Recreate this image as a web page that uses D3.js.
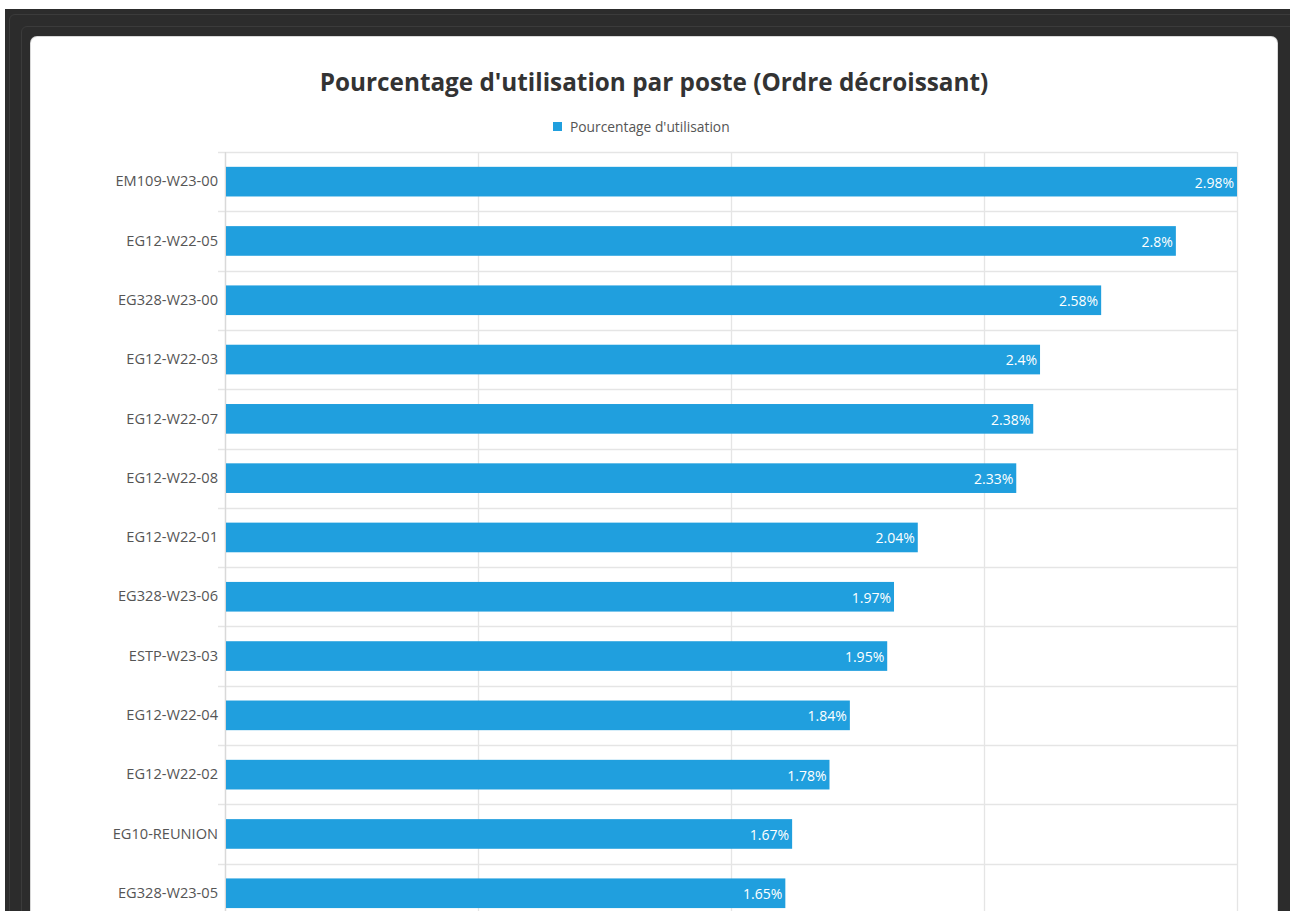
<!DOCTYPE html>
<html>
<head>
<meta charset="utf-8">
<script src="https://cdn.jsdelivr.net/npm/d3@7/dist/d3.min.js"></script>
<style>
  html, body { margin: 0; padding: 0; background: #ffffff; overflow: hidden; width: 1290px; height: 911px; }
  #outer { position: absolute; left: 5px; top: 9px; width: 1285px; height: 1000px; background: #2c2c2c; }
  #f1 { position: absolute; left: 4px; top: 5px; right: -10px; bottom: 0; border: 1px solid #3b3b3b; border-radius: 6px; }
  #f2 { position: absolute; left: 16px; top: 17px; right: -10px; bottom: 0; border: 1px solid #3b3b3b; border-radius: 6px; }
  #card { position: absolute; left: 31px; top: 37px; width: 1246px; height: 1000px; background: #fff; border-radius: 6px; box-shadow: 0 0 0 1px #d8d8d8; }
  svg { position: absolute; left: 0; top: 0; }
</style>
</head>
<body>
<div id="outer"><div id="f1"></div><div id="f2"></div></div>
<div id="card"></div>
<svg id="chart" width="1290" height="1000"></svg>
<script>
const titleText = "Pourcentage d'utilisation par poste (Ordre décroissant)";
const seriesName = "Pourcentage d'utilisation";
const categories = ["EM109-W23-00","EG12-W22-05","EG328-W23-00","EG12-W22-03","EG12-W22-07","EG12-W22-08","EG12-W22-01","EG328-W23-06","ESTP-W23-03","EG12-W22-04","EG12-W22-02","EG10-REUNION","EG328-W23-05"];
const values = [2.98, 2.8, 2.58, 2.4, 2.38, 2.33, 2.04, 1.97, 1.95, 1.84, 1.78, 1.67, 1.65];

(function () {
const svg = d3.select("#chart");
const font = "'Open Sans', 'Noto Sans', sans-serif";
const barColor = "#209fde";
const gridColor = "#e5e5e5";

const pLeft = 225, pRight = 1237, pTop = 152, rowH = 59.3;
const x = d3.scaleLinear().domain([0, d3.max(values)]).range([pLeft, pRight]);
const y = d3.scaleBand().domain(categories).range([pTop, pTop + rowH * categories.length]).paddingInner(0.5).paddingOuter(0.25);
const step = y.step();

// title
svg.append("text").attr("x", 654).attr("y", 91).attr("text-anchor", "middle")
  .attr("font-family", font).attr("font-weight", 700).attr("font-size", 24.3).attr("fill", "#333")
  .text(titleText);

// legend
const lg = svg.append("g");
lg.append("text").attr("x", 570).attr("y", 132).attr("font-family", font).attr("font-size", 13.8).attr("fill", "#555").text(seriesName);
lg.append("rect").attr("x", 553).attr("y", 122).attr("width", 9).attr("height", 9).attr("fill", barColor);

// grid: vertical
const xt = d3.range(0, 5).map(i => x.domain()[1] * i / 4);
const yBottom = pTop + step * categories.length;
svg.append("g").selectAll("line").data(xt).join("line")
  .attr("x1", d => Math.round(x(d)) + 0.5).attr("x2", d => Math.round(x(d)) + 0.5)
  .attr("y1", pTop).attr("y2", yBottom)
  .attr("stroke", gridColor).attr("stroke-width", 1.3);

// grid: horizontal row separators (with tick extension)
const seps = d3.range(0, categories.length + 1);
svg.append("g").selectAll("line").data(seps).join("line")
  .attr("x1", pLeft - 7).attr("x2", pRight)
  .attr("y1", d => Math.round(y.range()[0] + d * step) + 0.5).attr("y2", d => Math.round(y.range()[0] + d * step) + 0.5)
  .attr("stroke", gridColor).attr("stroke-width", 1.3);

// axis line
svg.append("line").attr("x1", pLeft + 0.5).attr("x2", pLeft + 0.5).attr("y1", pTop).attr("y2", yBottom)
  .attr("stroke", "#d9d9d9").attr("stroke-width", 1.3);

// y axis labels
const yAxis = d3.axisLeft(y).tickSize(0).tickPadding(7);
const ga = svg.append("g").attr("transform", `translate(${pLeft},0)`).call(yAxis);
ga.select(".domain").remove();
ga.selectAll("text").attr("font-family", font).attr("font-size", 14.6).attr("fill", "#555");

// bars
const data = categories.map((c, i) => ({c, v: values[i]}));
svg.append("g").selectAll("rect").data(data).join("rect")
  .attr("x", x(0) + 1).attr("y", d => y(d.c))
  .attr("width", d => x(d.v) - x(0) - 1).attr("height", y.bandwidth())
  .attr("fill", barColor);

// value labels
svg.append("g").selectAll("text").data(data).join("text")
  .attr("x", d => x(d.v) - 3).attr("y", d => y(d.c) + y.bandwidth() / 2 + 1)
  .attr("dy", "0.35em").attr("text-anchor", "end")
  .attr("font-family", font).attr("font-size", 14).attr("fill", "#fff")
  .text(d => d.v + "%");
})();
</script>
</body>
</html>
